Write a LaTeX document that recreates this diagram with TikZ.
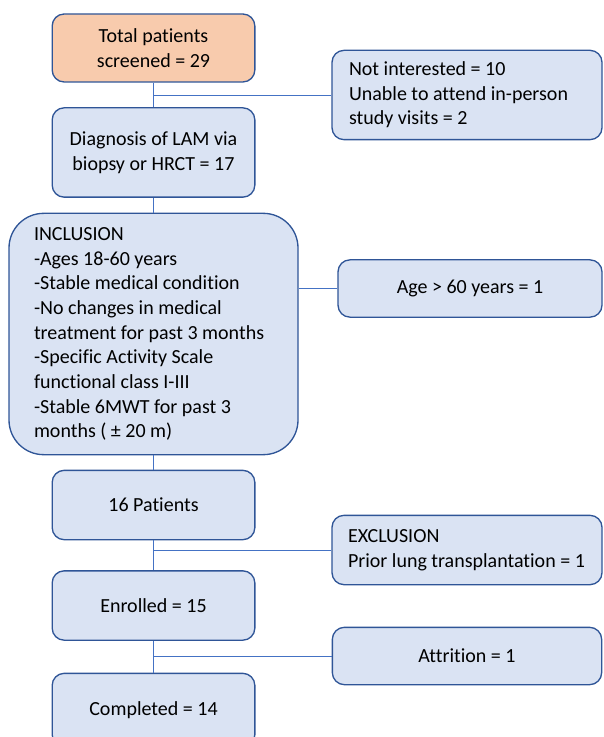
\documentclass[tikz,border=0pt]{standalone}
\usepackage{fontspec}
\setmainfont[Ligatures=NoCommon]{Carlito}
\usepackage{tikz}
\usetikzlibrary{calc,positioning}
\definecolor{rand}{HTML}{2F5597}
\definecolor{linie}{HTML}{4472C4}
\definecolor{hellblau}{HTML}{DAE3F3}
\definecolor{orange}{HTML}{F8CBAD}

\begin{document}
\begin{tikzpicture}[x=0.75pt,y=-0.75pt,
  kasten/.style={draw=rand,line width=1pt,fill=hellblau,rounded corners=9pt,
    align=center,inner sep=0pt,font=\fontsize{15}{18.5}\selectfont},
  links/.style={align=flush left,inner xsep=#1},
  verbinder/.style={draw=linie,line width=0.7pt}]
%Rahmen 603 x 737 Pixel, Ursprung oben links
  \useasboundingbox (0,0) rectangle (603,737);
  \clip (0,0) rectangle (603,737);
%linke Spalte
  \node[kasten,fill=orange,minimum width=152pt,minimum height=51pt] (gesamt) at (153.5,48)
    {Total patients\\screened = 29};
  \node[kasten,minimum width=152pt,minimum height=67pt] (diagnose) at (153.5,152.5)
    {Diagnosis of LAM via\\biopsy or HRCT = 17};
  \node[kasten,rounded corners=26pt,minimum height=181pt,links=18.75pt,text width=179.25pt] (einschluss) at (153.5,334)
    {INCLUSION\\-Ages 18-60 years\\-Stable medical condition\\-No changes in medical\\treatment for past 3 months\\-Specific Activity Scale\\functional class I-III\\-Stable 6MWT for past 3\\months ( ± 20 m)};
  \node[kasten,minimum width=152pt,minimum height=52pt] (patienten) at (153.5,505)
    {16 Patients};
  \node[kasten,minimum width=152pt,minimum height=52pt] (eingeschrieben) at (153.5,605.5)
    {Enrolled = 15};
  \node[kasten,minimum width=152pt,minimum height=55pt] (fertig) at (153.5,710)
    {Completed = 14};
%rechte Spalte
  \node[kasten,minimum height=67pt,links=12.75pt,text width=177pt] (desinteresse) at (467,95)
    {Not interested = 10\\Unable to attend in-person\\study visits = 2};
  \node[kasten,minimum width=198pt,minimum height=43pt] (alter) at (470,288.5)
    {Age > 60 years = 1};
  \node[kasten,minimum height=52pt,links=12pt,text width=178.5pt] (ausschluss) at (467,550)
    {EXCLUSION\\Prior lung transplantation = 1};
  \node[kasten,minimum width=202pt,minimum height=43pt] (abbruch) at (467,656)
    {Attrition = 1};
%Verbindungen
  \coordinate (z1) at (gesamt.south |- desinteresse.west);
  \coordinate (z2) at (einschluss.east |- alter.west);
  \coordinate (z3) at (patienten.south |- ausschluss.west);
  \coordinate (z4) at (eingeschrieben.south |- abbruch.west);
  \draw[verbinder] (gesamt) -- (diagnose);
  \draw[verbinder] (diagnose) -- (einschluss);
  \draw[verbinder] (einschluss) -- (patienten);
  \draw[verbinder] (patienten) -- (eingeschrieben);
  \draw[verbinder] (eingeschrieben) -- (fertig);
  \draw[verbinder] (z1) -- (desinteresse);
  \draw[verbinder] (z2) -- (alter);
  \draw[verbinder] (z3) -- (ausschluss);
  \draw[verbinder] (z4) -- (abbruch);
\end{tikzpicture}
\end{document}
